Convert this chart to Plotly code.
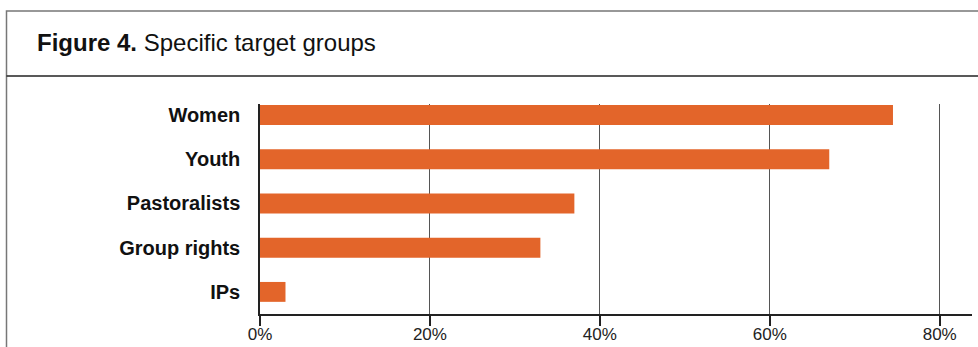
import plotly.graph_objects as go

categories = ["Women", "Youth", "Pastoralists", "Group rights", "IPs"]
values = [74.5, 67, 37, 33, 3]
tick_values = [0, 20, 40, 60, 80]
tick_labels = ["0%", "20%", "40%", "60%", "80%"]
title_bold = "Figure 4."
title_rest = "Specific target groups"

W, H = 978, 347
L, R, T, B = 260, 6, 104, 33
PW, PH = W - L - R, H - T - B

def px(x):
    return (x - L) / PW

def py(y):
    return (H - B - y) / PH

fig = go.Figure()
fig.add_trace(go.Bar(
    x=values, y=categories, orientation="h",
    marker=dict(color="#E3652A", line=dict(width=0)),
    width=0.45,
))

fig.update_layout(
    width=W, height=H,
    margin=dict(l=L, r=R, t=T, b=B, autoexpand=False),
    paper_bgcolor="white", plot_bgcolor="white",
    showlegend=False,
    font=dict(family="Liberation Sans, Arial, sans-serif", color="#111"),
)
fig.update_xaxes(
    range=[0, 83.8], automargin=False,
    tickvals=tick_values, ticktext=tick_labels,
    showgrid=True, gridcolor="#555", gridwidth=1.3,
    zeroline=False,
    showline=True, linecolor="#222", linewidth=1.5,
    ticks="outside", ticklen=10, tickcolor="#222", tickwidth=1.5,
    ticklabelstandoff=-6,
    tickfont=dict(size=17, color="#222"),
)
fig.update_yaxes(
    type="category", automargin=False,
    categoryorder="array", categoryarray=categories,
    range=[4.5, -0.25],
    showgrid=False, zeroline=False,
    showline=True, linecolor="#222", linewidth=1.5,
    ticks="", ticklabelstandoff=14,
    tickfont=dict(size=20, color="#111", family="Liberation Sans, Arial, sans-serif", weight="bold"),
)

# frame and header divider
fig.add_shape(type="rect", xref="paper", yref="paper",
              x0=px(6.5), x1=px(990), y0=py(360), y1=py(11),
              line=dict(color="#777", width=1.5), fillcolor="rgba(0,0,0,0)")
fig.add_shape(type="line", xref="paper", yref="paper",
              x0=px(6.5), x1=px(990), y0=py(76), y1=py(76),
              line=dict(color="#222", width=1.5))

fig.add_annotation(
    xref="paper", yref="paper", x=px(35), y=py(43),
    xanchor="left", yanchor="middle", showarrow=False,
    text=f"<b>{title_bold}</b> {title_rest}",
    font=dict(size=24, color="#111", family="Liberation Sans, Arial, sans-serif"),
)

fig.write_html("out.html", config={"displayModeBar": False},
               post_script="document.body.style.margin='0';document.body.style.overflow='hidden';")
